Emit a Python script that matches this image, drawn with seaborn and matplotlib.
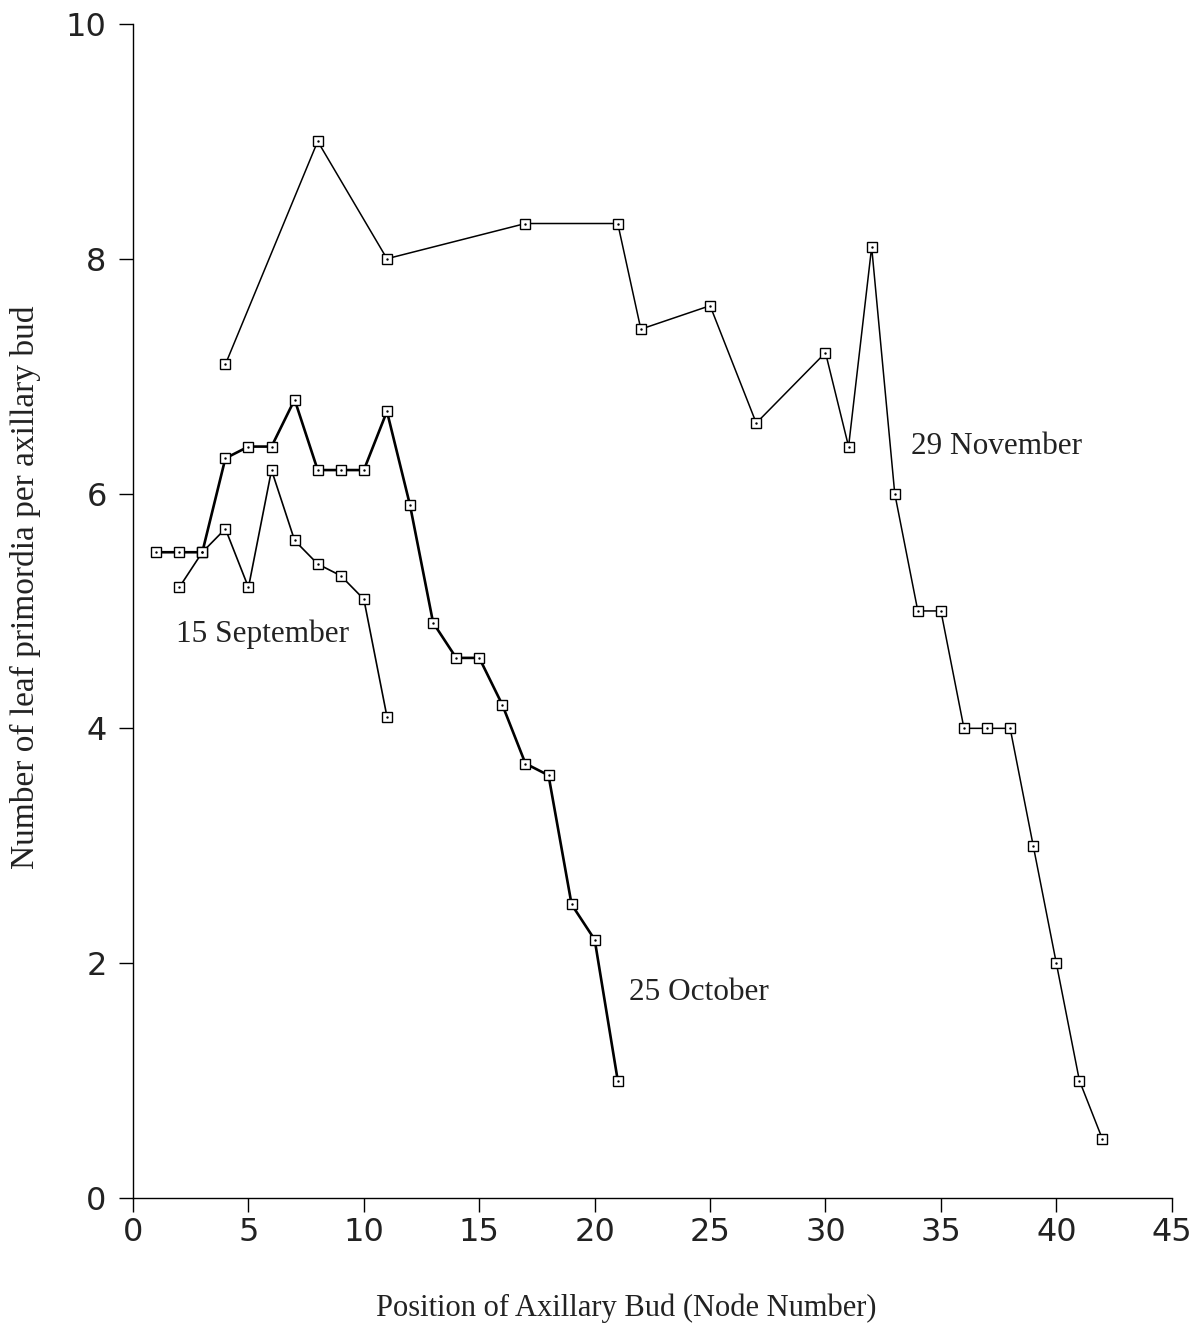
import matplotlib
matplotlib.use("Agg")
import matplotlib.pyplot as plt
import seaborn as sns
import pandas as pd

# Leaf primordia counts per axillary bud, by node position, for three sampling dates
sep_nodes = [2, 3, 4, 5, 6, 7, 8, 9, 10, 11]
sep_counts = [5.2, 5.5, 5.7, 5.2, 6.2, 5.6, 5.4, 5.3, 5.1, 4.1]

oct_nodes = list(range(1, 22))
oct_counts = [5.5, 5.5, 5.5, 6.3, 6.4, 6.4, 6.8, 6.2, 6.2, 6.2, 6.7,
              5.9, 4.9, 4.6, 4.6, 4.2, 3.7, 3.6, 2.5, 2.2, 1.0]

nov_nodes = [4, 8, 11, 17, 21, 22, 25, 27, 30, 31, 32, 33, 34, 35,
             36, 37, 38, 39, 40, 41, 42]
nov_counts = [7.1, 9.0, 8.0, 8.3, 8.3, 7.4, 7.6, 6.6, 7.2, 6.4, 8.1, 6.0,
              5.0, 5.0, 4.0, 4.0, 4.0, 3.0, 2.0, 1.0, 0.5]

series_names = ["15 September", "25 October", "29 November"]
label_x = [5.6, 24.5, 37.4]
label_y = [4.8, 1.75, 6.4]

x_ticks = [0, 5, 10, 15, 20, 25, 30, 35, 40, 45]
y_ticks = [0, 2, 4, 6, 8, 10]

sns.set_theme(style="ticks")
serif = ["Liberation Serif", "DejaVu Serif"]
sans = ["DejaVu Sans"]
ink = "#222222"

fig = plt.figure(figsize=(12.03, 13.29), dpi=100)
ax = fig.add_axes([0.1106, 0.0986, 0.8634, 0.8834])

frames = [
    pd.DataFrame({"node": sep_nodes, "count": sep_counts}),
    pd.DataFrame({"node": oct_nodes, "count": oct_counts}),
    pd.DataFrame({"node": nov_nodes, "count": nov_counts}),
]
widths = [1.2, 1.9, 1.1]

for df, lw in zip(frames, widths):
    sns.lineplot(data=df, x="node", y="count", ax=ax, color="black",
                 linewidth=lw, estimator=None, sort=False,
                 marker="s", markersize=6.5, markerfacecolor="white",
                 markeredgecolor="black", markeredgewidth=1.0, zorder=2)
    sns.scatterplot(data=df, x="node", y="count", ax=ax, color="black",
                    s=3, linewidth=0, zorder=3)

for name, lx, ly in zip(series_names, label_x, label_y):
    ax.text(lx, ly, name, ha="center", va="center", fontsize=22.5,
            family=serif, color=ink)

ax.set_xlim(0, 45)
ax.set_ylim(0, 10)
ax.set_xticks(x_ticks)
ax.set_yticks(y_ticks)
ax.set_xticklabels([str(t) for t in x_ticks], family=sans, fontsize=23)
ax.set_yticklabels([str(t) for t in y_ticks], family=sans, fontsize=23)
ax.tick_params(axis="both", direction="out", length=10, width=1.0,
               color="black", labelcolor=ink)
ax.tick_params(axis="y", pad=9)
ax.tick_params(axis="x", pad=4)

ax.set_xlabel("Position of Axillary Bud (Node Number)", family=serif,
              fontsize=22, color=ink)
ax.set_ylabel("Number of leaf primordia per axillary bud", family=serif,
              fontsize=24, color=ink)
ax.xaxis.set_label_coords(0.4745, -0.081)
ax.yaxis.label.set_verticalalignment("center")
ax.yaxis.set_label_coords(-0.104, 0.52)

for side in ["top", "right"]:
    ax.spines[side].set_visible(False)
for side in ["left", "bottom"]:
    ax.spines[side].set_color("black")
    ax.spines[side].set_linewidth(1.0)

fig.savefig("out.png", dpi=100, facecolor="white")
